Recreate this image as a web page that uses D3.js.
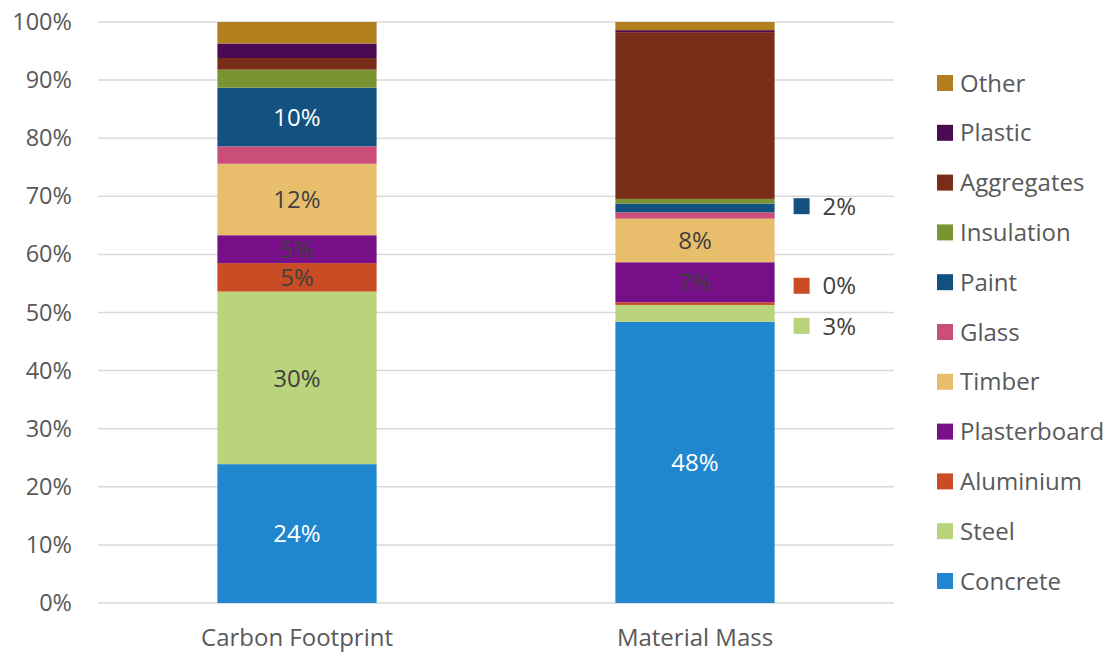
<!DOCTYPE html>
<html>
<head>
<meta charset="utf-8">
<script src="https://cdn.jsdelivr.net/npm/d3@7"></script>
<style>
  html, body { margin: 0; padding: 0; background: #ffffff; }
  svg { display: block; font-family: "Open Sans", Lato, sans-serif; }
</style>
</head>
<body>
<svg id="chart" width="1111" height="655"></svg>
<script>
// ---- data ----
const categories = ["Carbon Footprint", "Material Mass"];
const materials = ["Concrete", "Steel", "Aluminium", "Plasterboard", "Timber", "Glass", "Paint", "Insulation", "Aggregates", "Plastic", "Other"];
const carbonFootprint = [23.9, 29.7, 4.9, 4.8, 12.3, 3.0, 10.1, 3.1, 2.0, 2.5, 3.7];
const materialMass = [48.4, 2.9, 0.45, 6.9, 7.5, 1.1, 1.5, 0.8, 28.7, 0.35, 1.4];
const colors = ["#2087CF", "#B9D47C", "#C94C24", "#770F88", "#E8BE6D", "#CB4D7A", "#135280", "#799531", "#782D18", "#4B0A52", "#B27E1E"];
const yTicks = [0, 10, 20, 30, 40, 50, 60, 70, 80, 90, 100];
// labels shown inside bars (category index, material name)
const insideLabels = [
  [0, "Concrete"], [0, "Steel"], [0, "Aluminium"], [0, "Plasterboard"], [0, "Timber"], [0, "Paint"],
  [1, "Concrete"], [1, "Plasterboard"], [1, "Timber"]
];
// labels moved outside (category index, material name, value-axis anchor)
const outsideLabels = [[1, "Paint", 68.3], [1, "Aluminium", 54.6], [1, "Steel", 47.7]];
const whiteLabels = ["Concrete", "Paint"];

const seriesData = [carbonFootprint, materialMass];

// ---- layout ----
const svg = d3.select("#chart");
const margin = { left: 98, right: 217, top: 22, bottom: 52 };
const W = 1111, H = 655;
const x = d3.scaleBand().domain(categories).range([margin.left, W - margin.right]).paddingInner(0.6).paddingOuter(0.3);
const y = d3.scaleLinear().domain([0, 100]).range([H - margin.bottom, margin.top]);

// gridlines
svg.append("g").selectAll("line").data(yTicks).join("line")
  .attr("x1", margin.left).attr("x2", W - margin.right)
  .attr("y1", d => y(d)).attr("y2", d => y(d))
  .attr("stroke", "#d9d9d9").attr("stroke-width", 1.5);

// y axis labels
const yAxis = d3.axisLeft(y).tickValues(yTicks).tickFormat(d => d + "%").tickSize(0).tickPadding(26);
const ya = svg.append("g").attr("transform", `translate(${margin.left},0)`).call(yAxis);
ya.select(".domain").remove();
ya.selectAll("text").attr("fill", "#595959").style("font-size", "23.5px").style("font-family", "\"Open Sans\", sans-serif");

// x axis labels
const xAxis = d3.axisBottom(x).tickSize(0).tickPadding(26);
const xa = svg.append("g").attr("transform", `translate(0,${y(0)})`).call(xAxis);
xa.select(".domain").remove();
xa.selectAll("text").attr("fill", "#595959").style("font-size", "24px").style("font-family", "\"Open Sans\", sans-serif");

// stack
const rows = categories.map((c, i) => {
  const o = { category: c };
  materials.forEach((m, j) => o[m] = seriesData[i][j]);
  return o;
});
const stacked = d3.stack().keys(materials)(rows);
const color = d3.scaleOrdinal().domain(materials).range(colors);

svg.append("g").selectAll("g").data(stacked).join("g")
  .attr("fill", d => color(d.key))
  .selectAll("rect").data(d => d).join("rect")
  .attr("x", d => x(d.data.category))
  .attr("width", x.bandwidth())
  .attr("y", d => y(d[1]))
  .attr("height", d => y(d[0]) - y(d[1]));

const fmt = v => Math.round(v) + "%";
function seg(ci, m) {
  return stacked[materials.indexOf(m)][ci];
}

// inside labels
svg.append("g").selectAll("text").data(insideLabels).join("text")
  .attr("x", d => x(categories[d[0]]) + x.bandwidth() / 2)
  .attr("y", d => { const s = seg(d[0], d[1]); return y((s[0] + s[1]) / 2); })
  .attr("dy", "0.36em")
  .attr("text-anchor", "middle")
  .attr("fill", d => whiteLabels.includes(d[1]) ? "#ffffff" : "#404040")
  .style("font-size", "24px")
  .text(d => fmt(seriesData[d[0]][materials.indexOf(d[1])]));

// outside labels with legend keys
const og = svg.append("g").selectAll("g").data(outsideLabels).join("g")
  .attr("transform", d => `translate(${x(categories[d[0]]) + x.bandwidth() + 19},${y(d[2])})`);
og.append("rect").attr("x", 0).attr("y", -8).attr("width", 16).attr("height", 16)
  .attr("fill", d => color(d[1]));
og.append("text").attr("x", 29).attr("dy", "0.36em").attr("fill", "#404040")
  .style("font-size", "24px")
  .text(d => fmt(seriesData[d[0]][materials.indexOf(d[1])]));

// legend
const legendItems = materials.slice().reverse();
const ly = d3.scalePoint().domain(legendItems).range([83, 581]);
const lg = svg.append("g").selectAll("g").data(legendItems).join("g")
  .attr("transform", d => `translate(937,${ly(d)})`);
lg.append("rect").attr("x", 0).attr("y", -8).attr("width", 16).attr("height", 16).attr("fill", d => color(d));
lg.append("text").attr("x", 23).attr("dy", "0.36em").attr("fill", "#595959")
  .style("font-size", "24px").text(d => d);
</script>
</body>
</html>
